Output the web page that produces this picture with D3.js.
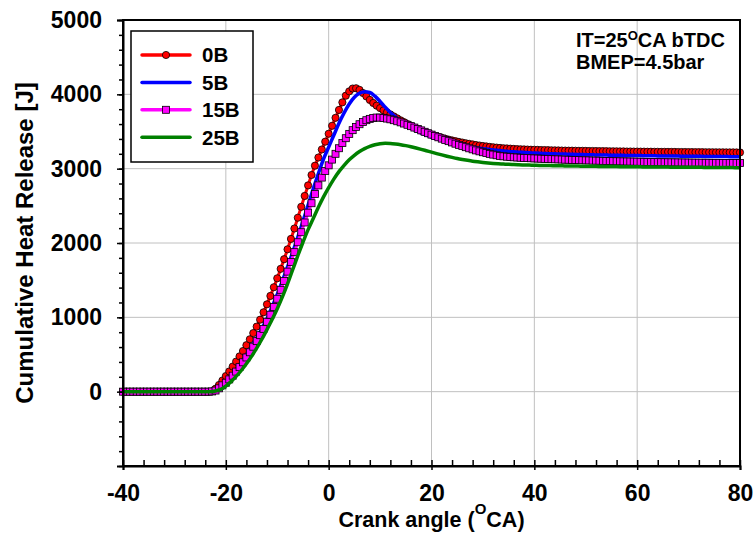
<!DOCTYPE html>
<html><head><meta charset="utf-8">
<script src="https://cdn.jsdelivr.net/npm/d3@7"></script>
<style>
body{margin:0;background:#fff}
svg{display:block}
text{font-family:"Liberation Sans",Arial,sans-serif;font-weight:bold;fill:#000}
</style>
</head><body>
<svg id="chart" width="753" height="537"></svg>
<script>
// ---------- data ----------
// marker series (0B, 15B) sampled every 2/3 deg CA; line-only series every 1 deg CA
const crankAnglesFine = d3.range(181).map(i => -40 + i * 2 / 3);
const crankAngles = d3.range(-40, 81);
const seriesNames = ["0B", "5B", "15B", "25B"];
const hr0B = [
  0,0,0, 0,0,0, 0,0,0, 0,0,0, 0,0,0, 0,0,0, 0,0,0, 0,0,0,        // -40 .. -24.7
  0,0,5, 40,90,150, 210,272,338, 405,475,547, 625,705,788,       // -24 ..
  875,968,1068, 1175,1288,1405, 1525,1652,1782, 1915,2055,2195,  // -14 ..
  2340,2487,2633, 2775,2915,3040, 3150,3258,3363,                // -6 ..
  3470,3577,3684, 3790,3892,3982, 4040,4078,4082, 4060,4018,3972, // 0 ..
  3925,3884,3848, 3815,3785,3757, 3730,3703,3677, 3650,3625,3600, // 8 ..
  3577,3554,3532, 3512,3494,3476, 3460,3445,3430, 3416,3403,3391, // 16 ..
  3380,3370,3360, 3351,3342,3334, 3326,3318,3311, 3305,3299,3293, // 24 ..
  3288,3283,3279, 3275,3272,3269, 3266,3263,3261, 3259,3257,3255, // 32 ..
  3254,3253,3251, 3250,3249,3247, 3246,3245,3244, 3243,3242,3242, // 40 ..
  3241,3240,3240, 3239,3238,3238, 3237,3236,3236, 3235,3234,3234, // 48 ..
  3233,3232,3232, 3231,3231,3230, 3230,3229,3229, 3228,3228,3227, // 56 ..
  3227,3226,3226, 3226,3225,3225, 3224,3224,3224, 3223,3223,3222, // 64 ..
  3222,3222,3221, 3221,3221,3220, 3220,3220,3219, 3219,3219,3218, // 72 ..
  3218];                                                          // 80
const hr5B = [0,0,0,0,0,0,0,0,0,0,0,0,0,0,0,0,0,0,
  10,25,100,190,285,385,490,600,720,850,985,1145,1310,1490,1680,1875,2080,2295,2510,2730,2935,3130,
  3290,3450,3610,3750,3870,3960,4015,4035,4025,3975,3905,3828,3757,3696,3642,3594,3552,3514,3480,3451,
  3425,3402,3381,3362,3345,3329,3315,3302,3290,3279,3269,3260,3252,3245,3238,3232,3227,3222,3218,3214,
  3211,3208,3205,3202,3200,3198,3196,3194,3192,3190,3188,3187,3185,3184,3183,3181,3180,3179,3178,3177,
  3176,3175,3174,3173,3172,3171,3170,3170,3169,3168,3167,3167,3166,3165,3165,3164,3163,3163,3162,3162,3161];
const hr15B = [
  0,0,0, 0,0,0, 0,0,0, 0,0,0, 0,0,0, 0,0,0, 0,0,0, 0,0,0,        // -40 .. -24.7
  0,0,3, 15,45,85, 120,165,215, 270,330,395, 460,530,605,        // -24 ..
  680,760,845, 940,1035,1140, 1250,1370,1490, 1615,1745,1877,    // -14 ..
  2010,2145,2276, 2408,2535,2660, 2775,2880,2970,                // -6 ..
  3045,3122,3200, 3275,3345,3410, 3468,3518,3562, 3598,3628,3652, // 0 ..
  3670,3682,3688, 3687,3682,3674, 3664,3652,3638, 3623,3607,3590, // 8 ..
  3572,3553,3534, 3515,3496,3477, 3458,3440,3422, 3404,3387,3370, // 16 ..
  3353,3336,3320, 3304,3289,3274, 3260,3246,3233, 3221,3210,3199, // 24 ..
  3189,3180,3172, 3166,3161,3157, 3153,3150,3147, 3144,3142,3140, // 32 ..
  3138,3136,3134, 3132,3130,3128, 3126,3125,3123, 3121,3120,3118, // 40 ..
  3116,3115,3113, 3112,3111,3109, 3108,3107,3105, 3104,3103,3101, // 48 ..
  3100,3099,3098, 3097,3096,3095, 3094,3093,3092, 3091,3090,3089, // 56 ..
  3088,3087,3087, 3086,3085,3085, 3084,3083,3083, 3082,3081,3081, // 64 ..
  3080,3080,3079, 3079,3078,3078, 3078,3077,3077, 3076,3076,3076, // 72 ..
  3076];                                                          // 80
const hr25B = [0,0,0,0,0,0,0,0,0,0,0,0,0,0,0,0,0,0,
  10,30,75,135,205,285,375,475,585,705,835,970,1115,1275,1450,1640,1830,2010,2180,2330,2480,2620,
  2745,2860,2960,3045,3120,3180,3230,3270,3300,3322,3336,3342,3340,3333,3323,3310,3295,3278,3260,3241,
  3222,3203,3185,3168,3152,3137,3124,3112,3101,3092,3084,3077,3071,3066,3062,3058,3055,3052,3050,3048,
  3046,3044,3043,3041,3040,3039,3037,3036,3035,3034,3033,3032,3031,3030,3029,3028,3028,3027,3026,3025,
  3025,3024,3023,3023,3022,3021,3021,3020,3020,3019,3019,3018,3018,3017,3017,3016,3016,3015,3015,3014,3014];
const xTickValues = [-40, -20, 0, 20, 40, 60, 80];
const yTickValues = [0, 1000, 2000, 3000, 4000, 5000];
const noteLines = [["IT=25", "O", "CA bTDC"], ["BMEP=4.5bar"]];

// ---------- styles ----------
const series = [
  {name: seriesNames[0], xs: crankAnglesFine, values: hr0B,  color: "#ff0000", width: 3,   marker: "circle"},
  {name: seriesNames[1], xs: crankAngles,     values: hr5B,  color: "#0000ff", width: 3.5, marker: null},
  {name: seriesNames[2], xs: crankAnglesFine, values: hr15B, color: "#ff00ff", width: 3,   marker: "square"},
  {name: seriesNames[3], xs: crankAngles,     values: hr25B, color: "#008000", width: 3.5, marker: null}
];

const svg = d3.select("#chart");
const L = 123, R = 740, T = 20, B = 466;
const x = d3.scaleLinear().domain([-40, 80]).range([L, R]);
const y = d3.scaleLinear().domain([-1000, 5000]).range([B, T]);

// grid
const grid = svg.append("g").attr("stroke", "#c0c0c0").attr("stroke-width", 1);
grid.selectAll("line.v").data(xTickValues.slice(1, -1)).join("line")
  .attr("x1", d => x(d)).attr("x2", d => x(d)).attr("y1", T).attr("y2", B);
grid.selectAll("line.h").data(yTickValues.slice(0, -1)).join("line")
  .attr("x1", L).attr("x2", R).attr("y1", d => y(d)).attr("y2", d => y(d));

// series
const plot = svg.append("g");
series.forEach(s => {
  const pts = s.xs.map((a, i) => [a, s.values[i]]).filter(d => d[1] !== undefined);
  plot.append("path").datum(pts)
    .attr("fill", "none").attr("stroke", s.color).attr("stroke-width", s.width)
    .attr("stroke-linejoin", "round")
    .attr("d", d3.line().x(d => x(d[0])).y(d => y(d[1])).curve(d3.curveMonotoneX));
  if (s.marker === "circle") {
    plot.append("g").selectAll("circle").data(pts).join("circle")
      .attr("cx", d => x(d[0])).attr("cy", d => y(d[1])).attr("r", 3.6)
      .attr("fill", s.color).attr("stroke", "#000").attr("stroke-width", 0.8);
  } else if (s.marker === "square") {
    plot.append("g").selectAll("rect").data(pts).join("rect")
      .attr("x", d => x(d[0]) - 3.5).attr("y", d => y(d[1]) - 3.5)
      .attr("width", 7).attr("height", 7)
      .attr("fill", s.color).attr("stroke", "#000").attr("stroke-width", 0.8);
  }
});

// frame
svg.append("rect").attr("x", L).attr("y", T).attr("width", R - L).attr("height", B - T)
  .attr("fill", "none").attr("stroke", "#000").attr("stroke-width", 2);

function styleAxis(g, size) {
  g.attr("font-family", "Liberation Sans, Arial, sans-serif").attr("font-weight", "bold").attr("font-size", size);
  g.selectAll("line").attr("stroke-width", 1.5);
}

// x axis: minor inward ticks
svg.append("g").attr("transform", `translate(0,${B})`)
  .call(d3.axisBottom(x).tickValues(d3.range(-40, 81, 4)).tickSize(-6).tickFormat(""))
  .call(g => g.select(".domain").remove()).call(g => styleAxis(g, 23));
// x axis: major ticks + labels
svg.append("g").attr("transform", `translate(0,${B})`)
  .call(d3.axisBottom(x).tickValues(xTickValues).tickSize(4).tickPadding(15).tickFormat(d => String(d)))
  .call(g => g.select(".domain").attr("stroke-width", 2))
  .call(g => styleAxis(g, 23));

// y axis: minor ticks
svg.append("g").attr("transform", `translate(${L},0)`)
  .call(d3.axisLeft(y).tickValues(d3.range(-1000, 5001, 200)).tickSize(4).tickFormat(""))
  .call(g => g.select(".domain").remove()).call(g => styleAxis(g, 23));
// y axis: major ticks + labels
svg.append("g").attr("transform", `translate(${L},0)`)
  .call(d3.axisLeft(y).tickValues(yTickValues).tickSize(6).tickPadding(15).tickFormat(d => String(d)))
  .call(g => g.select(".domain").attr("stroke-width", 2))
  .call(g => styleAxis(g, 23));

// axis titles
const xt = svg.append("text").attr("x", (L + R) / 2).attr("y", 527)
  .attr("text-anchor", "middle").attr("font-size", 21.5);
xt.append("tspan").text("Crank angle (");
xt.append("tspan").attr("font-size", 15).attr("dy", -13).text("O");
xt.append("tspan").attr("dy", 13).text("CA)");

svg.append("text").attr("transform", `translate(33,${(T + B) / 2}) rotate(-90)`)
  .attr("text-anchor", "middle").attr("font-size", 24)
  .text("Cumulative Heat Release [J]");

// legend
const lg = svg.append("g");
lg.append("rect").attr("x", 131).attr("y", 31).attr("width", 122).attr("height", 131)
  .attr("fill", "#fff").attr("stroke", "#000").attr("stroke-width", 1.5);
series.forEach((s, i) => {
  const cy = 55 + i * 27.4;
  lg.append("line").attr("x1", 142).attr("x2", 190).attr("y1", cy).attr("y2", cy)
    .attr("stroke", s.color).attr("stroke-width", 3.5).attr("stroke-linecap", "round");
  if (s.marker === "circle") {
    lg.append("circle").attr("cx", 166).attr("cy", cy).attr("r", 3.6)
      .attr("fill", s.color).attr("stroke", "#000").attr("stroke-width", 0.8);
  } else if (s.marker === "square") {
    lg.append("rect").attr("x", 162.5).attr("y", cy - 3.5).attr("width", 7).attr("height", 7)
      .attr("fill", s.color).attr("stroke", "#000").attr("stroke-width", 0.8);
  }
  lg.append("text").attr("x", 202).attr("y", cy + 7.4).attr("font-size", 20.5).text(s.name);
});

// annotation
const n1 = svg.append("text").attr("x", 576).attr("y", 47).attr("font-size", 20);
n1.append("tspan").text(noteLines[0][0]);
n1.append("tspan").attr("font-size", 13).attr("dy", -7).text(noteLines[0][1]);
n1.append("tspan").attr("dy", 7).text(noteLines[0][2]);
svg.append("text").attr("x", 576).attr("y", 68.5).attr("font-size", 20).text(noteLines[1][0]);
</script>
</body></html>
